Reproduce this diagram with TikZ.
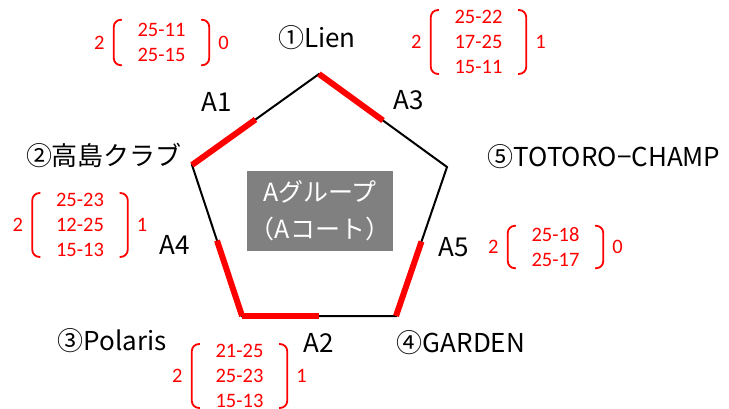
\documentclass[tikz,border=0pt]{standalone}
\usepackage{fontspec}
\setmainfont{Noto Sans CJK JP}
\newfontfamily\scorefont{Carlito}
\usetikzlibrary{positioning,calc}

\tikzset{
  team/.style={inner sep=0pt, font=\fontsize{26}{30}\selectfont},
  match/.style={inner sep=0pt, font=\fontsize{26}{30}\selectfont},
  edge/.style={line width=2pt, black},
  win/.style={line width=6pt, red},
  score/.style={red, inner sep=0pt, minimum width=95pt, align=center, font=\scorefont\fontsize{20.5}{25}\selectfont},
  num/.style={red, inner sep=0pt, font=\scorefont\fontsize{20.5}{25}\selectfont},
  brk/.style={red, line width=1.8pt, rounded corners=7pt},
}

\begin{document}
\begin{tikzpicture}[x=1pt,y=-1pt]
\useasboundingbox (0,0) rectangle (729,408);

% Sommets du pentagone
\coordinate (P1) at (319,74);
\coordinate (P5) at (447,167);
\coordinate (P4) at (396,316);
\coordinate (P3) at (242,316);
\coordinate (P2) at (192,165);

% Côtés
\draw[edge] (P1) -- (P5) -- (P4) -- (P3) -- (P2) -- cycle;

% Moitiés gagnantes
\draw[win] (P2) -- ($(P2)!0.5!(P1)$);
\draw[win] (P1) -- ($(P1)!0.5!(P5)$);
\draw[win] (P3) -- ($(P3)!0.5!(P2)$);
\draw[win] (P3) -- ($(P3)!0.5!(P4)$);
\draw[win] (P4) -- ($(P4)!0.5!(P5)$);

% Groupe
\node[fill=gray, text=white, minimum width=134pt, minimum height=80pt, align=center, font=\fontsize{25}{37}\selectfont] (group) at (320,211) {Aグループ\\（Aコート）};

% Equipes
\node[team] (t1) at (317,38) {①Lien};
\node[team] (t2) at (104,155) {②高島クラブ};
\node[team] (t3) at (112,341) {③Polaris};
\node[team] (t4) at (461,343) {④GARDEN};
\node[team] (t5) at (604,157) {⑤TOTORO−CHAMP};

% Matchs
\node[match] (m1) at (217,102) {A1};
\node[match] (m2) at (319,343) {A2};
\node[match] (m3) at (409,100) {A3};
\node[match] (m4) at (175,245) {A4};
\node[match] (m5) at (454,247) {A5};

% Scores
\node[score, minimum height=45pt] (s1) at (161.5,42.5) {25-11\\25-15};
\node[num, left=9pt of s1] (l1) {2};
\node[num, right=9pt of s1] (r1) {0};

\node[score, minimum height=60pt] (s2) at (478.5,42) {25-22\\17-25\\15-11};
\node[num, left=9pt of s2] (l2) {2};
\node[num, right=9pt of s2] (r2) {1};

\node[score, minimum height=62pt] (s3) at (80,225) {25-23\\12-25\\15-13};
\node[num, left=9pt of s3] (l3) {2};
\node[num, right=9pt of s3] (r3) {1};

\node[score, minimum height=42pt] (s4) at (555.5,247) {25-18\\25-17};
\node[num, left=9pt of s4] (l4) {2};
\node[num, right=9pt of s4] (r4) {0};

\node[score, minimum height=62pt] (s5) at (239.5,376) {21-25\\25-23\\15-13};
\node[num, left=9pt of s5] (l5) {2};
\node[num, right=9pt of s5] (r5) {1};

% Crochets
\foreach \s in {s1,s2,s3,s4,s5} {
  \draw[brk] ([xshift=8pt]\s.north west) -- (\s.north west) -- (\s.south west) -- ([xshift=8pt]\s.south west);
  \draw[brk] ([xshift=-8pt]\s.north east) -- (\s.north east) -- (\s.south east) -- ([xshift=-8pt]\s.south east);
}

\end{tikzpicture}
\end{document}
